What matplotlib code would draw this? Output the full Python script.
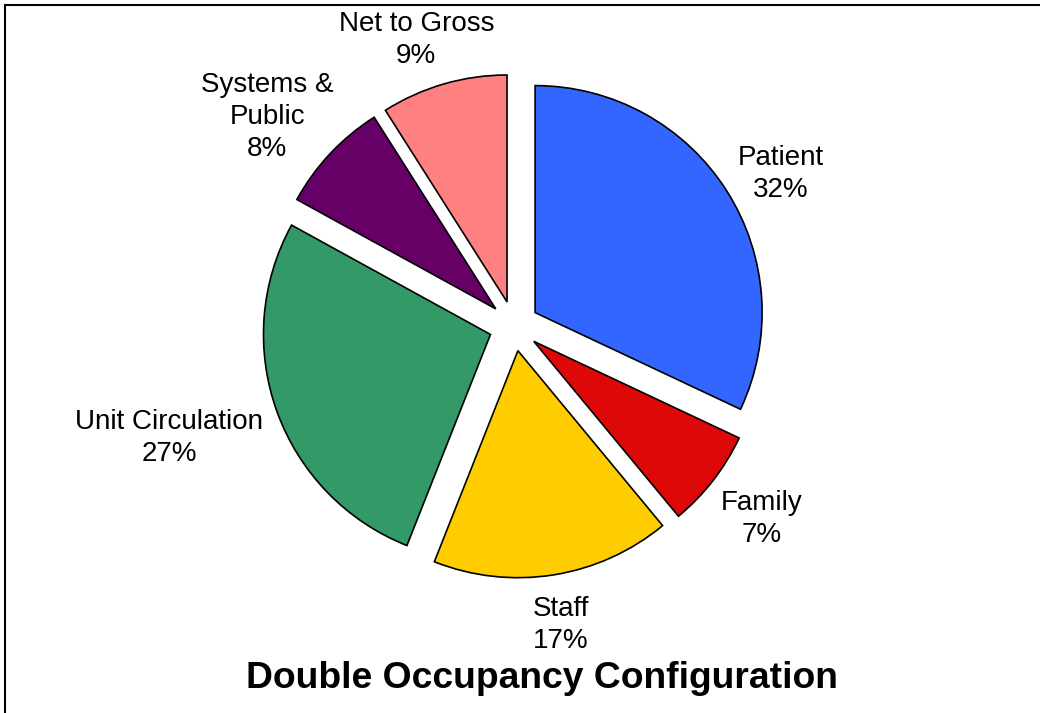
import numpy as np
import matplotlib
matplotlib.use('Agg')
import matplotlib.pyplot as plt
from matplotlib.lines import Line2D

plt.rcParams['font.family'] = ['Liberation Sans', 'DejaVu Sans']

categories = ['Patient', 'Family', 'Staff', 'Unit Circulation', 'Systems &\nPublic', 'Net to Gross']
shares = [32, 7, 17, 27, 8, 9]
colors = ['#3366FF', '#DD0808', '#FFCC00', '#339966', '#660066', '#FF8080']
title = 'Double Occupancy Configuration'

W, H = 1040, 713
fig = plt.figure(figsize=(W / 100, H / 100), dpi=100)
ax = fig.add_axes([0, 0, 1, 1])

cx, cy, r = 514, H - 326, 227
gap = 25  # explode offset, in axis units (pixels here)
wedges, _ = ax.pie(shares, colors=colors, startangle=90, counterclock=False,
                   explode=[gap] * len(shares), center=(cx, cy), radius=r,
                   wedgeprops=dict(edgecolor='black', linewidth=1.2),
                   frame=True)
ax.set_xlim(0, W)
ax.set_ylim(0, H)
ax.set_aspect('equal')
ax.axis('off')

# labels: nearest edge of the text box sits on the ray through the slice middle
texts = []
for w, name, v in zip(wedges, categories, shares):
    th = np.deg2rad((w.theta1 + w.theta2) / 2)
    px = w.center[0] + 1.09 * r * np.cos(th)
    py = w.center[1] + 1.09 * r * np.sin(th) - 11 * abs(np.cos(th))
    t = ax.text(px, py, f'{name}\n{v}%', ha='center', va='center',
                multialignment='center', fontsize=20, linespacing=1.3)
    texts.append((t, th, px, py))

fig.canvas.draw()
inv = ax.transData.inverted()
for t, th, px, py in texts:
    bb = t.get_window_extent().transformed(inv)
    t.set_position((px + bb.width / 2 * np.cos(th), py + bb.height / 2 * np.sin(th)))

fig.text(542 / W, 1 - 678 / H, title, ha='center', va='center',
         fontsize=26.8, fontweight='bold')

# frame lines along top and left
fig.add_artist(Line2D([5 / W, 1], [1 - 5 / H, 1 - 5 / H], color='black', lw=1.5,
                      transform=fig.transFigure))
fig.add_artist(Line2D([5 / W, 5 / W], [0, 1 - 5 / H], color='black', lw=1.5,
                      transform=fig.transFigure))

fig.savefig('out.png', dpi=100, facecolor='white')
